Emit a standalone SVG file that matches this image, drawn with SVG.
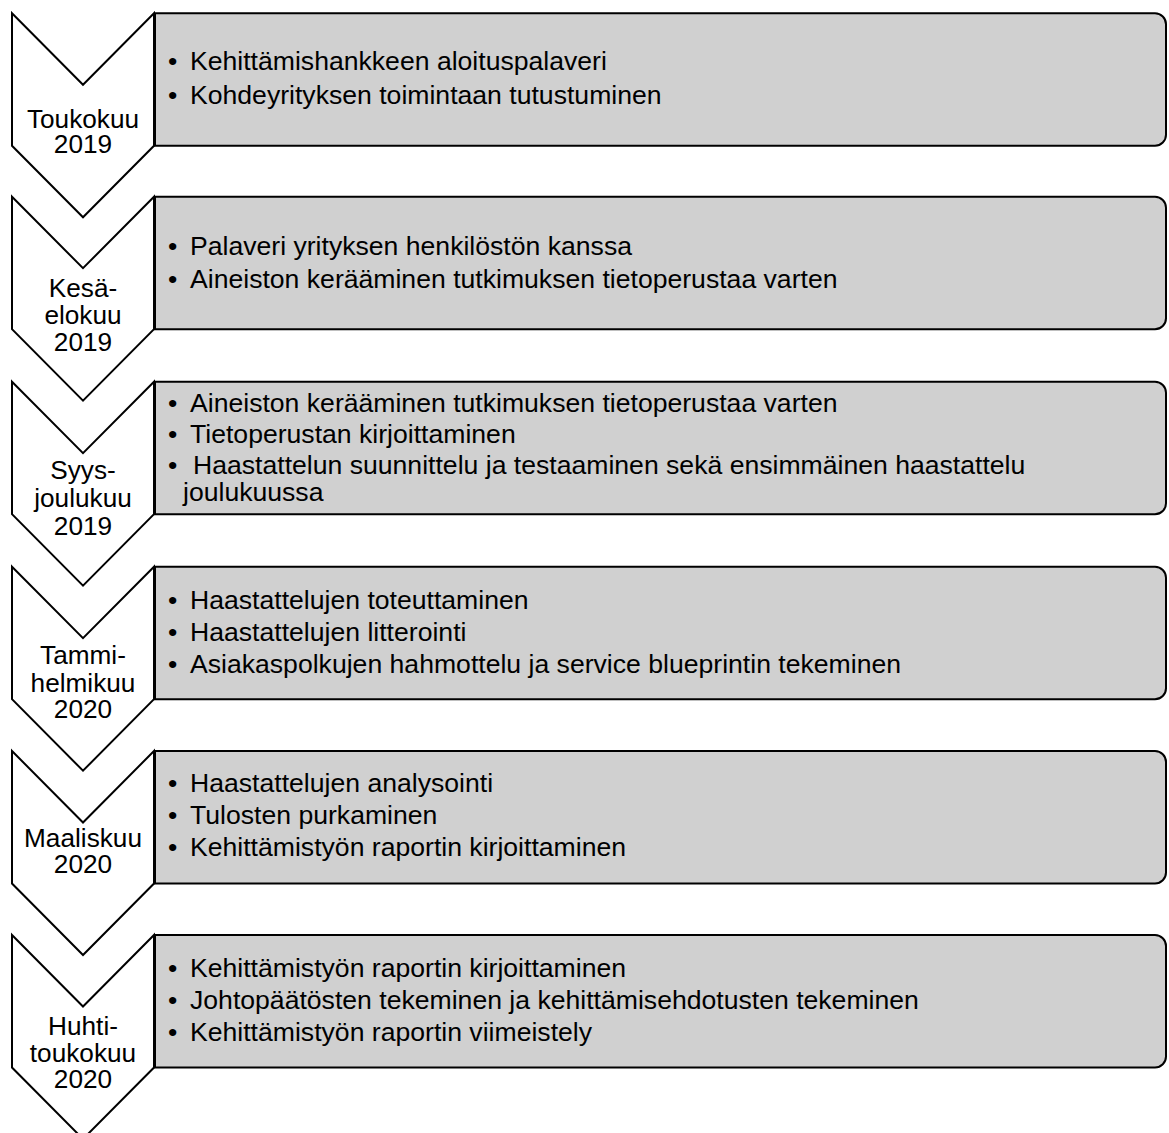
<svg xmlns="http://www.w3.org/2000/svg" width="1169" height="1133" viewBox="0 0 1169 1133">
  <style>
    .chev { fill: #ffffff; stroke: #000000; stroke-width: 2; stroke-linejoin: miter; }
    .box { fill: #d0d0d0; stroke: #000000; stroke-width: 2; }
    .lbl { font-family: "Liberation Sans", Arial, sans-serif; font-size: 26.2px; fill: #000000; text-anchor: middle; }
    .txt { font-family: "Liberation Sans", Arial, sans-serif; font-size: 26.6px; fill: #000000; }
  </style>
  <defs>
    <!-- down-pointing chevron and the task box, drawn at local origin -->
    <path id="chevShape" d="M12,0 L83,71.5 L154,0 L154,132.5 L83,204 L12,132.5 Z"/>
    <path id="boxShape" d="M155,0 H1155 A11,11 0 0 1 1166,11 V121.5 A11,11 0 0 1 1155,132.5 H155 Z"/>
  </defs>

  <g id="connectors"/>

  <!-- Phase 1 -->
  <g id="phase-1" transform="translate(0,13.3)">
    <use href="#chevShape" class="chev"/>
    <use href="#boxShape" class="box"/>
    <text class="lbl"><tspan x="83" y="115">Toukokuu</tspan><tspan x="83" y="140">2019</tspan></text>
    <text class="txt">
      <tspan x="168" y="57">•</tspan><tspan x="190" y="57">Kehittämishankkeen aloituspalaveri</tspan>
      <tspan x="168" y="91">•</tspan><tspan x="190" y="91">Kohdeyrityksen toimintaan tutustuminen</tspan>
    </text>
  </g>

  <!-- Phase 2 -->
  <g id="phase-2" transform="translate(0,196.7)">
    <use href="#chevShape" class="chev"/>
    <use href="#boxShape" class="box"/>
    <text class="lbl"><tspan x="83" y="100">Kesä-</tspan><tspan x="83" y="127">elokuu</tspan><tspan x="83" y="154">2019</tspan></text>
    <text class="txt">
      <tspan x="168" y="58">•</tspan><tspan x="190" y="58">Palaveri yrityksen henkilöstön kanssa</tspan>
      <tspan x="168" y="91">•</tspan><tspan x="190" y="91">Aineiston kerääminen tutkimuksen tietoperustaa varten</tspan>
    </text>
  </g>

  <!-- Phase 3 -->
  <g id="phase-3" transform="translate(0,381.7)">
    <use href="#chevShape" class="chev"/>
    <use href="#boxShape" class="box"/>
    <text class="lbl"><tspan x="83" y="97">Syys-</tspan><tspan x="83" y="125">joulukuu</tspan><tspan x="83" y="153">2019</tspan></text>
    <text class="txt">
      <tspan x="168" y="30">•</tspan><tspan x="190" y="30">Aineiston kerääminen tutkimuksen tietoperustaa varten</tspan>
      <tspan x="168" y="61.5">•</tspan><tspan x="190" y="61.5">Tietoperustan kirjoittaminen</tspan>
      <tspan x="168" y="92.5">•</tspan><tspan x="193" y="92.5">Haastattelun suunnittelu ja testaaminen sekä ensimmäinen haastattelu</tspan>
      <tspan x="183" y="119">joulukuussa</tspan>
    </text>
  </g>

  <!-- Phase 4 -->
  <g id="phase-4" transform="translate(0,566.7)">
    <use href="#chevShape" class="chev"/>
    <use href="#boxShape" class="box"/>
    <text class="lbl"><tspan x="83" y="97.5">Tammi-</tspan><tspan x="83" y="125.5">helmikuu</tspan><tspan x="83" y="151.5">2020</tspan></text>
    <text class="txt">
      <tspan x="168" y="42">•</tspan><tspan x="190" y="42">Haastattelujen toteuttaminen</tspan>
      <tspan x="168" y="74">•</tspan><tspan x="190" y="74">Haastattelujen litterointi</tspan>
      <tspan x="168" y="106">•</tspan><tspan x="190" y="106">Asiakaspolkujen hahmottelu ja service blueprintin tekeminen</tspan>
    </text>
  </g>

  <!-- Phase 5 -->
  <g id="phase-5" transform="translate(0,751)">
    <use href="#chevShape" class="chev"/>
    <use href="#boxShape" class="box"/>
    <text class="lbl"><tspan x="83" y="96">Maaliskuu</tspan><tspan x="83" y="122">2020</tspan></text>
    <text class="txt">
      <tspan x="168" y="41">•</tspan><tspan x="190" y="41">Haastattelujen analysointi</tspan>
      <tspan x="168" y="72.5">•</tspan><tspan x="190" y="72.5">Tulosten purkaminen</tspan>
      <tspan x="168" y="104.5">•</tspan><tspan x="190" y="104.5">Kehittämistyön raportin kirjoittaminen</tspan>
    </text>
  </g>

  <!-- Phase 6 -->
  <g id="phase-6" transform="translate(0,935)">
    <use href="#chevShape" class="chev"/>
    <use href="#boxShape" class="box"/>
    <text class="lbl"><tspan x="83" y="100">Huhti-</tspan><tspan x="83" y="127">toukokuu</tspan><tspan x="83" y="153">2020</tspan></text>
    <text class="txt">
      <tspan x="168" y="42">•</tspan><tspan x="190" y="42">Kehittämistyön raportin kirjoittaminen</tspan>
      <tspan x="168" y="73.5">•</tspan><tspan x="190" y="73.5">Johtopäätösten tekeminen ja kehittämisehdotusten tekeminen</tspan>
      <tspan x="168" y="106">•</tspan><tspan x="190" y="106">Kehittämistyön raportin viimeistely</tspan>
    </text>
  </g>
</svg>
